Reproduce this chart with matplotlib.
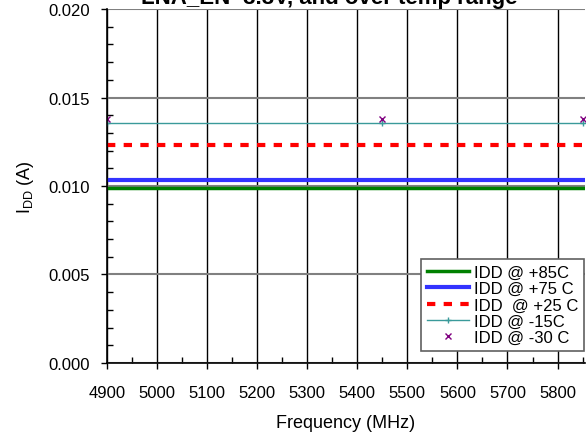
import matplotlib.pyplot as plt
from matplotlib.ticker import MultipleLocator, FormatStrFormatter

plt.rcParams['font.family'] = ['Liberation Sans', 'DejaVu Sans']
plt.rcParams['mathtext.fontset'] = 'custom'
plt.rcParams['mathtext.rm'] = 'Liberation Sans'

# Supply current vs frequency at each temperature
freq = [4900, 5450, 5850]
idd_85 = [0.00987, 0.00987, 0.00987]
idd_75 = [0.01033, 0.01033, 0.01033]
idd_25 = [0.01232, 0.01232, 0.01232]
idd_m15 = [0.01355, 0.01355, 0.01355]
idd_m30 = [0.01380, 0.01380, 0.01380]

fig = plt.figure(figsize=(5.88, 4.39), dpi=100)
ax = fig.add_axes([0.182, 0.171, 0.813, 0.806])

ax.plot(freq, idd_85, color='#008000', lw=2.5, label='IDD @ +85C')
ax.plot(freq, idd_75, color='#3333ff', lw=3, label='IDD @ +75 C')
ax.plot(freq, idd_25, color='#ff0000', lw=3, ls=(0, (2, 2)), label='IDD  @ +25 C')
ax.plot(freq, idd_m15, color='#3a9a9a', lw=1, marker='+', ms=5, label='IDD @ -15C')
ax.plot(freq, idd_m30, color='#800080', lw=0, marker='x', ms=4, mew=1,
        label='IDD @ -30 C')

ax.set_xlim(4900, 5855)
ax.set_ylim(0, 0.020)
ax.xaxis.set_major_locator(MultipleLocator(100))
ax.xaxis.set_minor_locator(MultipleLocator(50))
ax.yaxis.set_major_locator(MultipleLocator(0.005))
ax.yaxis.set_minor_locator(MultipleLocator(0.001))
ax.yaxis.set_major_formatter(FormatStrFormatter('%.3f'))

ax.grid(True, axis='x', which='major', color='black', lw=1)
ax.grid(True, axis='y', which='major', color='#808080', lw=1.5)
ax.set_axisbelow(True)

ax.tick_params(which='major', direction='out', length=4, width=1,
               labelsize=12, colors='black')
ax.tick_params(which='minor', direction='in', length=4, width=1)
ax.tick_params(axis='x', pad=12)
ax.tick_params(axis='y', pad=8)

for side in ['top', 'right']:
    ax.spines[side].set_visible(False)
for side in ['left', 'bottom']:
    ax.spines[side].set_linewidth(1.2)

ax.set_xlabel('Frequency (MHz)', fontsize=13, labelpad=10)
ax.set_ylabel(r'I$_{\mathrm{DD}}$ (A)', fontsize=13, labelpad=9)

fig.text(0.56, 0.991, 'LNA_EN=3.3V, and over temp range', ha='center', va='baseline',
         fontsize=16, fontweight='bold')

leg = ax.legend(loc='lower right', fontsize=12, frameon=True, fancybox=False,
                edgecolor='#606060', framealpha=1, borderpad=0.35, labelspacing=0.08,
                handlelength=2.5, handletextpad=0.3, borderaxespad=0, numpoints=1,
                bbox_to_anchor=(0.998, 0.034))
leg.get_frame().set_linewidth(1.2)

fig.savefig('out.png', dpi=100)
